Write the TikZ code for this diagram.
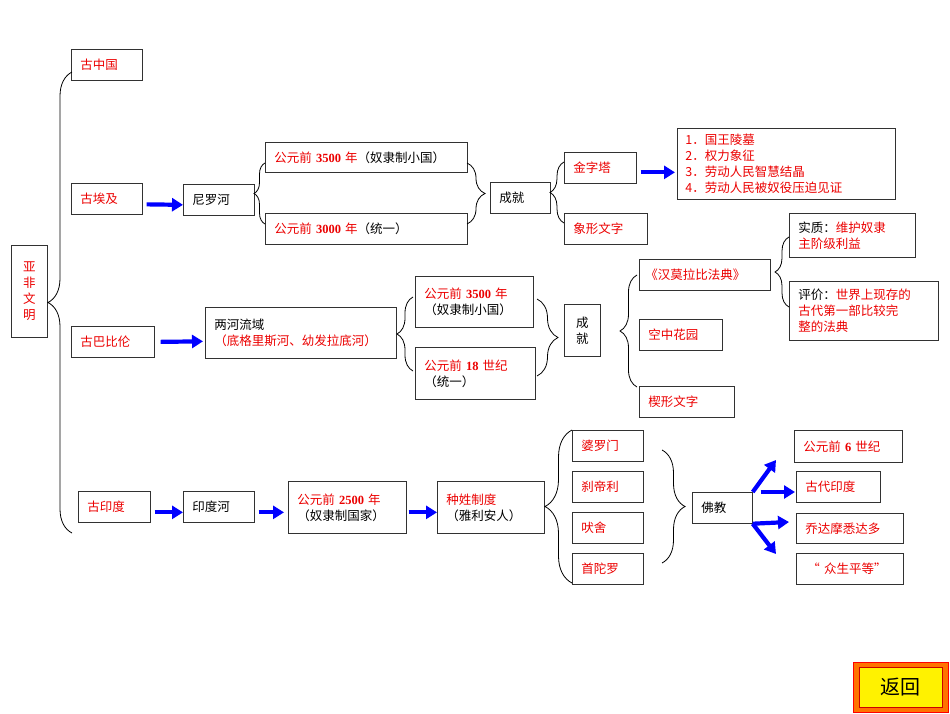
\documentclass[tikz,border=0pt]{standalone}
\usepackage{fontspec}
\setmainfont{Liberation Serif}
\newfontfamily\cjk{Noto Sans CJK SC}
\newfontfamily\lat{Liberation Serif}
\usetikzlibrary{arrows.meta,calc,decorations.pathreplacing}
\definecolor{tred}{RGB}{235,0,0}
\definecolor{bord}{RGB}{50,50,50}
\definecolor{barr}{RGB}{0,0,255}
\newcommand\nm[1]{{\lat\bfseries #1}}
\newcommand\rd[1]{{\color{tred}#1}}
\begin{document}
\begin{tikzpicture}[x=1pt,y=-1pt,
  every node/.style={font=\cjk\fontsize{12.5}{16}\selectfont},
  bx/.style={draw=bord, line width=0.7pt, anchor=north west, inner xsep=9pt, inner ysep=1pt, align=left, minimum height=31},
  barrow/.style={draw=barr, line width=4.2pt, -{Triangle[length=11pt,width=13pt]}},
  curly/.style={draw=black, line width=0.8pt, decorate, decoration={brace, amplitude=#1}}
]
\useasboundingbox (0,0) rectangle (950,713);

% root
\node[bx, text width=18, minimum height=92, align=center] (yf) at (11,245) {\rd{亚\\非\\文\\明}};

% level 1
\node[bx, text width=53] (zg) at (71,49) {\rd{古中国}};
\node[bx, text width=53] (ej) at (71,183) {\rd{古埃及}};
\node[bx, text width=65] (bbl) at (71,326) {\rd{古巴比伦}};
\node[bx, text width=54] (yd) at (78,491) {\rd{古印度}};

% Egypt
\node[bx, text width=53] (nl) at (183,184) {尼罗河};
\node[bx, text width=184, minimum height=30] (e1) at (265,142) {\rd{公元前 \nm{3500} 年}（奴隶制小国）};
\node[bx, text width=184] (e2) at (265,213) {\rd{公元前 \nm{3000} 年}（统一）};
\node[bx, text width=42] (ecj) at (490,182) {成就};
\node[bx, text width=54] (jzt) at (564,152) {\rd{金字塔}};
\node[bx, text width=65] (xw) at (564,213) {\rd{象形文字}};
\node[bx, text width=202, minimum height=71, inner xsep=8pt] (pyr) at (677,128) {\rd{1．国王陵墓\\2．权力象征\\3．劳动人民智慧结晶\\4．劳动人民被奴役压迫见证}};

% Babylon
\node[bx, text width=173, minimum height=51] (lh) at (205,307) {两河流域\\\rd{（底格里斯河、幼发拉底河）}};
\node[bx, text width=100, minimum height=51] (b1) at (415,276) {\rd{公元前 \nm{3500} 年}\\（奴隶制小国）};
\node[bx, text width=102, minimum height=52] (b2) at (415,347) {\rd{公元前 \nm{18} 世纪}\\（统一）};
\node[bx, text width=18, minimum height=52, align=center] (bcj) at (564,304) {成\\就};
\node[bx, text width=119, inner xsep=6pt] (hm) at (639,259) {\rd{《汉莫拉比法典》}};
\node[bx, text width=65] (kz) at (639,319) {\rd{空中花园}};
\node[bx, text width=77] (xx) at (639,386) {\rd{楔形文字}};
\node[bx, text width=108, minimum height=44] (sz) at (789,213) {实质：\rd{维护奴隶}\\\rd{主阶级利益}};
\node[bx, text width=131, minimum height=59] (pj) at (789,281) {评价：\rd{世界上现存的}\\\rd{古代第一部比较完}\\\rd{整的法典}};

% India
\node[bx, text width=53] (ydh) at (183,491) {印度河};
\node[bx, text width=100, minimum height=52] (y1) at (288,481) {\rd{公元前 \nm{2500} 年}\\（奴隶制国家）};
\node[bx, text width=89, minimum height=52] (y2) at (437,481) {\rd{种姓制度}\\（雅利安人）};
\node[bx, text width=53] (c1) at (572,430) {\rd{婆罗门}};
\node[bx, text width=53] (c2) at (572,471) {\rd{刹帝利}};
\node[bx, text width=53] (c3) at (572,512) {\rd{吠舍}};
\node[bx, text width=53] (c4) at (572,553) {\rd{首陀罗}};
\node[bx, text width=42] (fj) at (692,492) {佛教};
\node[bx, text width=90, minimum height=32] (r1) at (794,430) {\rd{公元前 \nm{6} 世纪}};
\node[bx, text width=66] (r2) at (796,471) {\rd{古代印度}};
\node[bx, text width=89, minimum height=30] (r3) at (796,513) {\rd{乔达摩悉达多}};
\node[bx, text width=89] (r4) at (796,553) {\rd{\hspace{2pt}“ 众生平等”}};

% braces
\draw[curly=24pt] (72,533) -- (72,72);
\draw[curly=11pt] (265,224) -- (265,163);
\draw[curly=18pt] (467,163) -- (467,224);
\draw[curly=14pt] (564,223) -- (564,162);
\draw[curly=14pt] (789,307) -- (789,237);
\draw[curly=16pt] (413,371) -- (413,297);
\draw[curly=21pt] (537,299) -- (537,376);
\draw[curly=17pt] (637,387) -- (637,275);
\draw[curly=27pt] (572,583) -- (572,430);
\draw[curly=23pt] (662,450) -- (662,563);

% blue arrows
\draw[barrow] ($(ej.east)+(4,5.5)$) -- ($(nl.west)+(0,5)$);
\draw[barrow] ($(jzt.east)+(4,4.5)$) -- ($(pyr.west)+(-2,8.5)$);
\draw[barrow] ($(bbl.east)+(6,0)$) -- ($(lh.west)+(-2,8.5)$);
\draw[barrow] ($(yd.east)+(4,5.5)$) -- ($(ydh.west)+(0,5.5)$);
\draw[barrow] ($(ydh.east)+(4,5.5)$) -- ($(y1.west)+(-4,5)$);
\draw[barrow] ($(y1.east)+(2,5)$) -- ($(y2.west)+(0,5)$);
\coordinate (t1) at (776,460);
\coordinate (t2) at (795,492);
\coordinate (t3) at (789,522);
\coordinate (t4) at (776,554);
\draw[barrow] (fj.north east) -- (t1);
\draw[barrow] ($(fj.north east)+(8,0)$) -- (t2);
\draw[barrow] (fj.south east) -- (t3);
\draw[barrow] (fj.south east) -- (t4);

% return button
\fill[orange!90!red] (853,662) rectangle (948,712);
\draw[red, line width=0.8pt] (853,662) rectangle (948,712);
\node[fill=yellow, draw=red!80!black, line width=0.5pt, minimum width=83, minimum height=40, inner sep=0pt, font=\cjk\fontsize{20}{22}\selectfont] (fh) at (900.5,687) {返回};
\end{tikzpicture}
\end{document}
